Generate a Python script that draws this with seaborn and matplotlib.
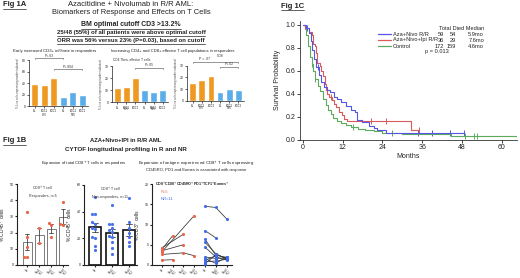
import numpy as np
import pandas as pd
import matplotlib
matplotlib.use("Agg")
import matplotlib.pyplot as plt
import seaborn as sns
from matplotlib.lines import Line2D

# ---------------- data ----------------
a_cats = ["BL", "EOC1", "EOC2", "BL", "EOC1", "EOC2"]
a_groups = ["CR", "CR", "CR", "NR", "NR", "NR"]
a1_vals = [38, 36, 49, 16, 24, 19]
a2_vals = [12, 12.5, 20, 10, 8.5, 10]
a3_vals = [15.5, 18, 21.5, 7.5, 10, 9]

b1_labels = ["BL", "Nivo1\nIPI1", "Nivo2\nIPI1", "Nivo4\nIPI2"]
b1_points = [[32.5, 17, 11, 5, 5], [23, 13.5], [26, 24.5, 17], [39, 25, 25.5]]
b2_labels = ["BL", "Nivo2\nIPI1", "Nivo4\nIPI2"]
b2_points = [[51, 38, 38, 32, 31, 28, 27, 21, 20, 14, 11],
             [45, 31, 31, 28, 26, 25, 22, 21, 17, 13, 8],
             [50, 32, 28, 24, 21, 17, 14]]
b3_labels = ["BL", "Nivo1\nIPI1", "Nivo2\nIPI1", "Nivo4\nIPI2", "BL", "Nivo2\nIPI1", "Nivo4\nIPI2"]
b3_r = [[3.8, 7.2, None, None],
        [1.2, 1.3, None, None],
        [4.2, None, 7.6, None],
        [3.5, None, 5.0, None],
        [3.2, None, None, 12.2],
        [2.6, None, 3.0, 2.3]]
b3_nr = [[14.5, 14.2, 11.4],
         [8.5, 6.7, None],
         [6.4, 2.4, 1.9],
         [5.6, 2.8, 1.5],
         [4.4, 2.0, 1.2],
         [2.0, 1.6, 1.8],
         [1.6, 0.4, 2.0],
         [1.2, 2.2, None],
         [0.8, 1.0, 1.4],
         [0.4, None, None],
         [0.3, 2.6, 1.6]]

km_blue_t = [0, 1.0, 1.9, 2.3, 2.8, 3.3, 4.0, 4.7, 5.4, 6.3, 7.3, 8.3, 9.4, 10.2, 11.5, 13.0, 14.6, 15.7, 16.2, 17.7, 19.8, 21.4, 22.4, 25.0, 48.5]
km_blue_s = [1.0, 0.97, 0.93, 0.86, 0.78, 0.70, 0.63, 0.56, 0.50, 0.46, 0.43, 0.41, 0.37, 0.35, 0.33, 0.29, 0.26, 0.24, 0.17, 0.15, 0.12, 0.10, 0.085, 0.06, 0.06]
km_red_t = [0, 0.5, 1.9, 2.6, 2.9, 3.7, 4.0, 4.2, 5.2, 5.4, 6.1, 6.5, 7.0, 7.3, 7.8, 8.9, 9.4, 9.9, 11.0, 11.8, 12.5, 13.4, 32.6, 35.0]
km_red_s = [1.0, 0.97, 0.94, 0.91, 0.83, 0.81, 0.75, 0.67, 0.64, 0.60, 0.55, 0.48, 0.43, 0.40, 0.37, 0.34, 0.31, 0.28, 0.24, 0.21, 0.18, 0.16, 0.08, 0.08]
km_green_t = [0, 0.5, 1.0, 1.6, 2.1, 2.6, 3.1, 3.7, 4.4, 5.2, 6.1, 6.8, 7.5, 8.4, 9.2, 10.2, 11.5, 13.0, 14.6, 16.7, 18.8, 21.4, 24.0, 30.0, 44.6, 64.5]
km_green_s = [1.0, 0.96, 0.91, 0.81, 0.72, 0.66, 0.60, 0.53, 0.47, 0.42, 0.35, 0.30, 0.26, 0.22, 0.19, 0.16, 0.145, 0.13, 0.11, 0.095, 0.08, 0.07, 0.06, 0.05, 0.03, 0.0]
km_blue_cens_t = [1.2, 4.5, 34.8, 39.0, 44.3, 48.5]
km_blue_cens_s = [0.97, 0.63, 0.06, 0.06, 0.06, 0.06]
km_red_cens_t = [8.4, 20.4, 25.0, 35.0]
km_red_cens_s = [0.37, 0.16, 0.16, 0.08]
km_green_cens_t = [2.6, 3.7, 15.1, 27.0, 49.0, 51.6, 52.6]
km_green_cens_s = [0.66, 0.53, 0.11, 0.06, 0.03, 0.03, 0.03]
km_names = ["Aza+Nivo R/R", "Aza+Nivo+Ipi R/R", "Control"]
km_total = [59, 36, 172]
km_died = [54, 29, 159]
km_median = ["5.9mo", "7.6mo", "4.6mo"]

# ---------------- setup ----------------
W, H = 520, 278
sns.set_theme(style="ticks")
plt.rcParams["font.family"] = ["Liberation Sans", "DejaVu Sans"]
fig = plt.figure(figsize=(W / 100, H / 100), dpi=100)
fig.patch.set_facecolor("white")
renderer = fig.canvas.get_renderer()
underlined = []

ORANGE = "#EE9A22"
LBLUE = "#5AADE8"
TXT = "#222222"


def add_ax(x0, y0, x1, y1):
    return fig.add_axes([x0 / W, 1 - y1 / H, (x1 - x0) / W, (y1 - y0) / H])


def ftext(x, y, s, size=5, width=None, ha="center", va="center", weight="normal",
          underline=False, color=TXT, **kw):
    t = fig.text(x / W, 1 - y / H, s, ha=ha, va=va, fontsize=size,
                 fontweight=weight, color=color, **kw)
    if width:
        bb = t.get_window_extent(renderer)
        t.set_fontsize(size * width / bb.width)
    if underline:
        underlined.append(t)
    return t


def style_ax(ax, lab=2.6, lw=0.5, tl=1.5):
    sns.despine(ax=ax)
    for sp in ["left", "bottom"]:
        ax.spines[sp].set_linewidth(lw)
        ax.spines[sp].set_color("#222")
    ax.tick_params(labelsize=lab, length=tl, width=lw, pad=1, colors="#222")
    ax.set_facecolor("none")


# ---------------- Fig 1A ----------------
ftext(3, 5, "Fig 1A", size=5.5, weight="bold", ha="left", underline=True)
ftext(131, 5, "Azacitidine + Nivolumab in R/R AML:", size=6, width=126)
ftext(131, 13, "Biomarkers of Response and Effects on T Cells", size=6, width=158)
ftext(131, 25, "BM optimal cutoff CD3 >13.2%", size=5, width=100, weight="bold", underline=True)
ftext(131, 32.5, "25/48 (55%) of all patients were above optimal cutoff", size=5, width=150,
      weight="bold", underline=True)
ftext(131, 40.5, "ORR was 56% versus 23% (P=0.03), based on cutoff", size=5, width=148,
      weight="bold", underline=True)
ftext(55, 51, "Early increased CD3+ infiltrate in responders", size=3, width=84)
ftext(173, 51, "Increasing CD4+ and CD8+ effector T cell populations in responders", size=3, width=124)


def abar(ax, vals, ymax, ystep):
    keys = [f"{g}{i}" for i, g in enumerate(a_groups)]
    df = pd.DataFrame({"key": keys, "v": vals, "grp": a_groups})
    sns.barplot(data=df, x="key", y="v", hue="grp", order=keys,
                palette={"CR": ORANGE, "NR": LBLUE}, dodge=False, width=0.7,
                saturation=1, legend=False, ax=ax)
    ax.set_xlim(-0.6, 5.6)
    ax.set_ylim(0, ymax)
    ax.set_yticks(np.arange(0, ymax + 0.1, ystep))
    ax.set_xticks(range(6))
    ax.set_xticklabels(a_cats)
    ax.set_xlabel("")
    ax.set_ylabel("% Live cells expressing marker indicated", fontsize=2, labelpad=1.5, color="#444")
    style_ax(ax, lab=2.4)
    ax.tick_params(axis="x", labelsize=1.9)
    ax.text(1, -0.19, "CR", transform=ax.get_xaxis_transform(), ha="center", va="center",
            fontsize=2.4, color="#333")
    ax.text(4, -0.19, "NR", transform=ax.get_xaxis_transform(), ha="center", va="center",
            fontsize=2.4, color="#333")


def bracket(ax, x1, x2, y, txt, dy, tx=None):
    ax.plot([x1, x1, x2, x2], [y - dy, y, y, y - dy], color="#444", lw=0.4, clip_on=False)
    ax.text((x1 + x2) / 2 if tx is None else tx, y + dy * 0.6, txt, ha="center", va="bottom",
            fontsize=2.4, color="#333", clip_on=False)


ax = add_ax(29, 60, 88, 106)
abar(ax, a1_vals, 80, 20)
bracket(ax, 0, 3, 83, "P<.03", 2)
bracket(ax, 2, 5, 64, "P<.004", 2)

ax = add_ax(112, 66, 168, 102.3)
abar(ax, a2_vals, 30, 10)
bracket(ax, 2, 5, 28.5, "P<.05", 0.8)
ax.text(1.6, 35, "CD4 Tbet+ effector T cells", ha="center", va="center", fontsize=2.3,
        color="#333", clip_on=False)

ax = add_ax(187, 65.7, 244, 101)
abar(ax, a3_vals, 30, 10)
bracket(ax, 0, 5, 33.5, "", 0.8)
ax.text(1.3, 34.2, "P = .07", ha="center", va="bottom", fontsize=2.4, color="#333")
ax.text(3.0, 36.5, "CD8", ha="center", va="bottom", fontsize=2.4, color="#333")
bracket(ax, 3, 5, 29, "P<.02", 0.8)

# ---------------- Fig 1B ----------------
ftext(3, 141, "Fig 1B", size=5.5, weight="bold", ha="left", underline=True)
ftext(126, 141, "AZA+Nivo+IPI in R/R AML", size=5.5, width=72, weight="bold")
ftext(126, 149.5, "CYTOF longitudinal profiling in R and NR", size=5.5, width=122, weight="bold")
ftext(84, 164, "Expansion of total CD8$^{+}$ T cells in responders", size=3, width=86)
ftext(196, 164, "Expansion of antigen experienced CD8$^{+}$ T cells expressing", size=3, width=114)
ftext(196, 170.5, "CD45RO, PD1 and Eomes is associated with response", size=3, width=100)

BOT = 265


def xlab_style(ax, labels):
    ax.set_xticks(range(len(labels)))
    ax.set_xticklabels(labels, rotation=45, ha="right", rotation_mode="anchor", linespacing=0.85)
    ax.tick_params(axis="x", labelsize=1.8, pad=0.5, length=1.2)


def bbar(ax, labels, points, color, ymax, ystep, edge, elw, title):
    rows = [(labels[i], v) for i, pts in enumerate(points) for v in pts]
    df = pd.DataFrame(rows, columns=["t", "v"])
    sns.barplot(data=df, x="t", y="v", order=labels, errorbar="se", capsize=0.35,
                color="white", saturation=1, edgecolor=edge, linewidth=elw, width=0.72,
                err_kws={"linewidth": 0.6, "color": "#444"}, ax=ax)
    sns.swarmplot(data=df, x="t", y="v", order=labels, color=color, size=2.3, ax=ax)
    ax.set_ylim(0, ymax)
    ax.set_yticks(np.arange(0, ymax + 0.1, ystep))
    ax.set_xlabel("")
    ax.set_ylabel("% CD45$^{+}$ cells", fontsize=3.6, labelpad=1.5)
    style_ax(ax, lab=2.6, lw=0.8)
    xlab_style(ax, labels)
    ax.text(0.5, 1.0, title, transform=ax.transAxes, ha="center", va="top", fontsize=2.6,
            color="#333", linespacing=1.8)


ax = add_ax(17, 184, 68, BOT)
bbar(ax, b1_labels, b1_points, "#E8664A", 50, 10, "#666", 0.6, "CD8$^{+}$ T cell\nResponders, n=5")
ax.set_xlim(-0.85, 3.4)

ax = add_ax(84, 185, 137, BOT)
bbar(ax, b2_labels, b2_points, "#4A72EA", 60, 20, "#111", 1.2, "CD8$^{+}$ T cell\nNon-responders, n=11")
ax.set_xlim(-0.65, 2.47)

ax = add_ax(152, 184, 232, BOT)
for grp, pos, col in [(b3_r, [0, 1, 2, 3], "#E8664A"), (b3_nr, [4, 5, 6], "#3F6BEA")]:
    for pat in grp:
        xs = [p for p, v in zip(pos, pat) if v is not None]
        ys = [v for v in pat if v is not None]
        if len(xs) > 1:
            sns.lineplot(x=xs, y=ys, color="#333", lw=0.55, estimator=None, sort=False, ax=ax)
        sns.scatterplot(x=xs, y=ys, color=col, s=5, linewidth=0, ax=ax, zorder=3)
ax.set_xlim(-0.9, 6.5)
ax.set_ylim(0, 20)
ax.set_yticks([0, 5, 10, 15, 20])
ax.set_ylabel("% CD3$^{+}$ cells", fontsize=3.6, labelpad=1.5)
style_ax(ax, lab=2.6, lw=0.8)
xlab_style(ax, b3_labels)
ax.text(0.5, 1.0, "CD8$^{+}$CD38$^{+}$CD45RO$^{+}$PD1$^{+}$TCF1$^{+}$Eomes$^{+}$", transform=ax.transAxes,
        ha="center", va="center", fontsize=2.6, color="#222", fontweight="bold")
ax.text(0.11, 0.9, "R=5", transform=ax.transAxes, ha="left", va="center", fontsize=3, color="#E8664A")
ax.text(0.11, 0.81, "NR=11", transform=ax.transAxes, ha="left", va="center", fontsize=3, color="#3F6BEA")

# ---------------- Fig 1C ----------------
ftext(281, 6, "Fig 1C", size=5.5, weight="bold", ha="left", underline=True)
KB, KR, KG = "#5656E6", "#D85A5A", "#5CAA5C"
ax = add_ax(300, 21, 517, 139.5)
for t, s, ct, cs, col in [(km_green_t, km_green_s, km_green_cens_t, km_green_cens_s, KG),
                          (km_red_t, km_red_s, km_red_cens_t, km_red_cens_s, KR),
                          (km_blue_t, km_blue_s, km_blue_cens_t, km_blue_cens_s, KB)]:
    sns.lineplot(x=t, y=s, drawstyle="steps-post", estimator=None, color=col, lw=0.8, ax=ax)
    sns.scatterplot(x=ct, y=cs, marker="|", s=14, color=col, linewidth=0.7, ax=ax)
ax.set_xlim(-0.9, 64.6)
ax.set_ylim(0, 1.032)
ax.set_xticks([0, 12, 24, 36, 48, 60])
ax.set_yticks([0, 0.2, 0.4, 0.6, 0.8, 1.0])
ax.set_yticklabels(["0.0", "0.2", "0.4", "0.6", "0.8", "1.0"])
sns.despine(ax=ax)
for sp in ["left", "bottom"]:
    ax.spines[sp].set_linewidth(0.6)
    ax.spines[sp].set_color("#333")
ax.tick_params(labelsize=5, length=2, width=0.6, pad=1.5, colors="#222")
ax.set_ylabel("Survival Probability", fontsize=5, labelpad=3)
ax.set_xlabel("Months", fontsize=5, labelpad=1.5)

rows_y = [34, 40, 46]
LS = 4.1
ftext(484, 28, "Total Died Median", size=LS, ha="right")
for i, (nm, tot, died, med, col) in enumerate(zip(km_names, km_total, km_died, km_median, [KB, KR, KG])):
    fig.add_artist(Line2D([378 / W, 391 / W], [1 - rows_y[i] / H] * 2, color=col, lw=0.9,
                          transform=fig.transFigure))
    ftext(393, rows_y[i], nm, size=LS, ha="left")
    ftext(444, rows_y[i], str(tot), size=LS, ha="right")
    ftext(456, rows_y[i], str(died), size=LS, ha="right")
    ftext(484, rows_y[i], med, size=LS, ha="right")
ftext(437, 52, "p = 0.013", size=LS)

# underline helper
for t in underlined:
    bb = t.get_window_extent(renderer)
    y = bb.y0 - 0.6
    fig.add_artist(Line2D([bb.x0 / W, bb.x1 / W], [y / H, y / H], color=t.get_color(), lw=0.5,
                          transform=fig.transFigure))

fig.savefig("out.png", dpi=100, facecolor="white")
